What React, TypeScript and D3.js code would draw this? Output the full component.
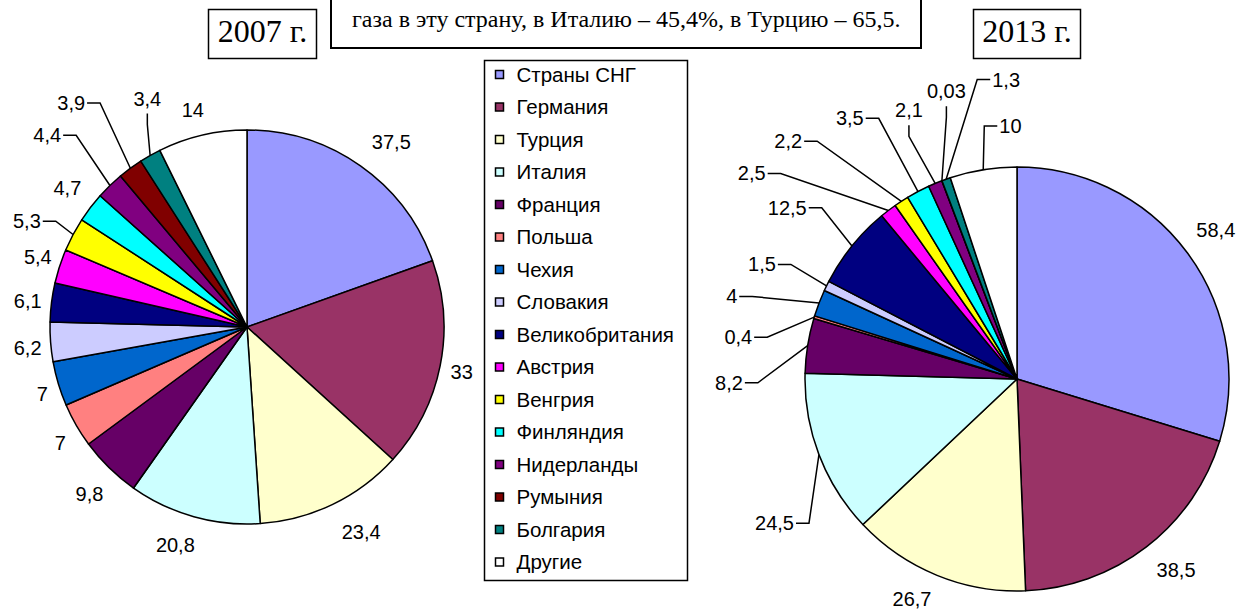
import React from "react";
import * as d3 from "d3";

const countries = [
  "Страны СНГ", "Германия", "Турция", "Италия", "Франция", "Польша", "Чехия", "Словакия",
  "Великобритания", "Австрия", "Венгрия", "Финляндия", "Нидерланды", "Румыния", "Болгария", "Другие",
];
const colors = [
  "#9999FF", "#993366", "#FFFFCC", "#CCFFFF", "#660066", "#FF8080", "#0066CC", "#CCCCFF",
  "#000080", "#FF00FF", "#FFFF00", "#00FFFF", "#800080", "#800000", "#008080", "#FFFFFF",
];
const values2007 = [37.5, 33, 23.4, 20.8, 9.8, 7, 7, 6.2, 6.1, 5.4, 5.3, 4.7, 4.4, 3.9, 3.4, 14];
const values2013 = [58.4, 38.5, 26.7, 24.5, 8.2, 0.4, 4, 1.5, 12.5, 2.5, 2.2, 3.5, 2.1, 0.03, 1.3, 10];
const title2007 = "2007 г.";
const title2013 = "2013 г.";
const noteLine = "газа в эту страну, в Италию – 45,4%, в Турцию – 65,5.";

// layout: label nudges relative to the default polar label position, leader style
const nudges2007: [number, number][] = [
  [17, -4], [-2, 2], [18, 6], [-12, 5], [-3, 9], [5, 6], [7, 3], [1, 4],
  [0, 2], [1, -2], [-25, -2], [-4, -5], [-46, -33], [-45, -46], [9, -36], [-4, -2],
];
const leaders2007 = ["", "", "", "", "", "", "", "", "", "", "h", "", "h", "h", "v", ""];
const nudges2013: [number, number][] = [
  [9, -9], [15, 4], [-16, 1], [-22, 60], [-55, 41], [-53, 27], [-65, 2], [-43, -11],
  [-46, -23], [-122, -18], [-100, -40], [-57, -52], [-17, -51], [13, -67], [68, -77], [31, -20],
];
const leaders2013 = ["", "", "", "h", "h", "h", "h", "h", "h", "h", "h", "h", "v", "v", "h", "h"];

const LABEL_FONT = "'Liberation Sans', Arial, sans-serif";
const SERIF_FONT = "'Liberation Serif', 'Times New Roman', serif";

const fmt = (v: number) => String(v).replace(".", ",");
const textWidth = (s: string, size: number) =>
  s.split("").reduce((acc, ch) => acc + (ch === "," ? 0.278 : 0.556), 0) * size;

function Pie({ values, cx, cy, r, nudges, leaders }: {
  values: number[]; cx: number; cy: number; r: number;
  nudges: [number, number][]; leaders: string[];
}) {
  const arcs = d3.pie<number>().sort(null).value((d) => d)(values);
  const arcGen = d3.arc<d3.PieArcDatum<number>>().innerRadius(0).outerRadius(r);
  const polar = (a: number, rad: number): [number, number] => [Math.sin(a) * rad, -Math.cos(a) * rad];
  const fs = 20;
  return (
    <g transform={`translate(${cx},${cy})`}>
      {arcs.map((a, i) => (
        <path key={i} d={arcGen(a) || ""} fill={colors[i]} stroke="#000" strokeWidth={1.5} strokeLinejoin="round" />
      ))}
      {arcs.map((a, i) => {
        const mid = (a.startAngle + a.endAngle) / 2;
        const [bx, by] = polar(mid, r + 24);
        const lx = bx + nudges[i][0];
        const ly = by + nudges[i][1];
        const txt = fmt(values[i]);
        const w = textWidth(txt, fs);
        const [ex, ey] = polar(mid, r);
        let leader = null;
        if (leaders[i] === "h") {
          const right = lx < ex;
          const x0 = right ? lx + w / 2 + 2 : lx - w / 2 - 2;
          const x1 = right ? x0 + 13 : x0 - 13;
          leader = <polyline points={`${x0},${ly} ${x1},${ly} ${ex},${ey}`} fill="none" stroke="#000" strokeWidth={1.5} />;
        } else if (leaders[i] === "v") {
          const y0 = ly + 15;
          const y1 = y0 + 11;
          leader = <polyline points={`${lx},${y0} ${lx},${y1} ${ex},${ey}`} fill="none" stroke="#000" strokeWidth={1.5} />;
        }
        return (
          <g key={"l" + i}>
            {leader}
            <text x={lx} y={ly + 7} textAnchor="middle" fontFamily={LABEL_FONT} fontSize={fs} fill="#000">{txt}</text>
          </g>
        );
      })}
    </g>
  );
}

export default function App() {
  const W = 1237, H = 609;
  const legendY0 = 74.5, legendStep = 32.5;
  return (
    <svg width={W} height={H} style={{ position: "absolute", left: 0, top: 0, background: "#fff" }}>
      <rect x={0} y={0} width={W} height={H} fill="#fff" />
      {/* note box */}
      <rect x={331} y={-10} width={590} height={58} fill="#fff" stroke="#000" strokeWidth={2} />
      <text x={352} y={27} fontFamily={SERIF_FONT} fontSize={24} fill="#000">{noteLine}</text>
      {/* title boxes */}
      <rect x={208.5} y={9.5} width={108} height={49} fill="#fff" stroke="#000" strokeWidth={1.5} />
      <text x={262.5} y={42} textAnchor="middle" fontFamily={SERIF_FONT} fontSize={32} fill="#000">{title2007}</text>
      <rect x={973.5} y={9.5} width={107} height={49} fill="#fff" stroke="#000" strokeWidth={1.5} />
      <text x={1027} y={42} textAnchor="middle" fontFamily={SERIF_FONT} fontSize={32} fill="#000">{title2013}</text>

      <Pie values={values2007} cx={247} cy={327} r={197} nudges={nudges2007} leaders={leaders2007} />
      <Pie values={values2013} cx={1017} cy={379} r={212} nudges={nudges2013} leaders={leaders2013} />

      {/* legend */}
      <rect x={484.5} y={60.5} width={203} height={520} fill="#fff" stroke="#000" strokeWidth={1.5} />
      {countries.map((c, i) => {
        const y = legendY0 + legendStep * i;
        return (
          <g key={c}>
            <rect x={495.5} y={y - 4} width={8} height={8} fill={colors[i]} stroke="#000" strokeWidth={1.5} />
            <text x={516.5} y={y + 7} fontFamily={LABEL_FONT} fontSize={20.5} fill="#000">{c}</text>
          </g>
        );
      })}
    </svg>
  );
}
